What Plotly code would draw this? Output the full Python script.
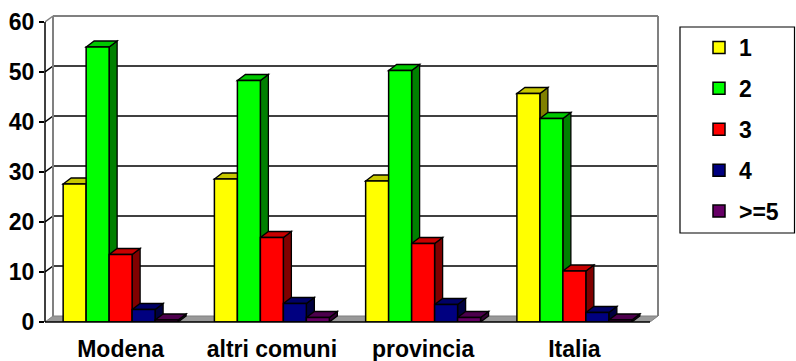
import plotly.graph_objects as go

# Share of families by number of members, per area
categories = ["Modena", "altri comuni", "provincia", "Italia"]
series_names = ["1", "2", "3", "4", ">=5"]
values_1 = [27.6, 28.6, 28.2, 45.7]
values_2 = [55.0, 48.3, 50.3, 40.7]
values_3 = [13.5, 16.9, 15.7, 10.2]
values_4 = [2.5, 3.7, 3.5, 1.9]
values_5 = [0.4, 0.9, 0.9, 0.4]
y_ticks = [0, 10, 20, 30, 40, 50, 60]

series_values = [values_1, values_2, values_3, values_4, values_5]
front_colors = ["#FFFF00", "#00FF00", "#FF0000", "#000080", "#660066"]
top_colors = ["#C8C800", "#00C800", "#C80000", "#000066", "#4D004D"]
side_colors = ["#808000", "#008000", "#800000", "#000040", "#330033"]

# plot geometry (pixels)
W, H = 796, 361
left_px, right_px = 45, 660
top_px, bottom_px = 10, 322
unit_px = 151.25                      # one category slot
y_scale = 5.0                         # pixels per percentage point
x_min = -0.5
x_max = x_min + (right_px - left_px) / unit_px
y_max = (bottom_px - top_px) / y_scale

# perspective offset of the depth axis, in data units
DX = 8 / unit_px
DY = 1.2

bargap = 0.24
n_series = len(series_names)
bar_w = (1 - bargap) / n_series

FONT = dict(family="Liberation Sans, Arial, sans-serif", size=23, color="black", weight="bold")


def px_to_paper_x(px):
    return (px - left_px) / (right_px - left_px)


def px_to_paper_y(py):
    return (bottom_px - py) / (bottom_px - top_px)


fig = go.Figure()

for i, (name, vals) in enumerate(zip(series_names, series_values)):
    fig.add_trace(go.Bar(
        x=list(range(len(categories))), y=vals, name=name,
        marker=dict(color=front_colors[i], line=dict(color="black", width=1.5)),
        legendgroup=name, hoverinfo="skip",
    ))

shapes = []


def poly(pts, fill, line_color="black", width=1.3, layer="between", xref="x", yref="y"):
    d = "M " + " L ".join(f"{x:.5f},{y:.5f}" for x, y in pts) + " Z"
    return dict(type="path", path=d, xref=xref, yref=yref, fillcolor=fill,
                line=dict(color=line_color, width=width), layer=layer)


def seg(x0, y0, x1, y1, color, width, layer="between", xref="x", yref="y"):
    return dict(type="line", x0=x0, y0=y0, x1=x1, y1=y1, xref=xref, yref=yref,
                line=dict(color=color, width=width), layer=layer)


x_end = x_min + len(categories)

# floor
shapes.append(poly([(x_min, 0), (x_end, 0), (x_end + DX, DY), (x_min + DX, DY)],
                   "#999999", line_color="#808080", width=1))

# gridlines on back wall and their return on the left wall
for v in y_ticks[1:-1]:
    shapes.append(seg(x_min + DX, v + DY, x_end + DX, v + DY, "black", 1.5))
    shapes.append(seg(x_min, v, x_min + DX, v + DY, "black", 1.5))

# back wall edges
wall_top = y_ticks[-1] + DY
shapes.append(seg(x_min + DX, DY, x_min + DX, wall_top, "#808080", 2))
shapes.append(seg(x_min + DX, wall_top, x_end + DX, wall_top, "#808080", 2))
shapes.append(seg(x_end + DX, wall_top, x_end + DX, DY, "#808080", 2))
shapes.append(seg(x_min, y_ticks[-1], x_min + DX, wall_top, "#808080", 1.5))

# top and side faces of each bar
for c in range(len(categories)):
    for i in range(n_series):
        v = series_values[i][c]
        x0 = c - (1 - bargap) / 2 + i * bar_w
        x1 = x0 + bar_w
        shapes.append(poly([(x1, 0), (x1 + DX, DY), (x1 + DX, v + DY), (x1, v)], side_colors[i]))
        shapes.append(poly([(x0, v), (x0 + DX, v + DY), (x1 + DX, v + DY), (x1, v)], top_colors[i]))

# front axis lines
shapes.append(seg(0, 0, 0, y_ticks[-1], "black", 1.5, layer="above", xref="paper"))
shapes.append(seg(x_min, 0, x_end, 0, "black", 1.5, layer="above", yref="paper"))

# legend frame
shapes.append(dict(type="rect", xref="paper", yref="paper",
                   x0=px_to_paper_x(680), x1=px_to_paper_x(794.5),
                   y0=px_to_paper_y(233), y1=px_to_paper_y(27),
                   line=dict(color="black", width=1.2), fillcolor="rgba(0,0,0,0)",
                   layer="above"))

fig.update_layout(
    width=W, height=H,
    margin=dict(l=left_px, r=W - right_px, t=top_px, b=H - bottom_px, pad=0, autoexpand=False),
    paper_bgcolor="white", plot_bgcolor="white",
    barmode="group", bargap=bargap, bargroupgap=0,
    font=FONT,
    shapes=shapes,
    showlegend=True,
    legend=dict(
        x=px_to_paper_x(699), y=px_to_paper_y(26),
        xanchor="left", yanchor="top",
        bgcolor="rgba(0,0,0,0)", borderwidth=0,
        font=FONT, tracegroupgap=8, itemwidth=30,
    ),
    xaxis=dict(
        range=[x_min, x_max], tickvals=list(range(len(categories))), ticktext=categories,
        ticks="", showgrid=False, zeroline=False, showline=False, automargin=False,
        tickfont=FONT, ticklabelstandoff=11,
    ),
    xaxis2=dict(
        overlaying="x", anchor="y", side="bottom", range=[x_min, x_max],
        tickvals=[x_min + k for k in range(len(categories) + 1)], ticks="outside",
        ticklen=6, tickwidth=1.5, tickcolor="black", showticklabels=False,
        showgrid=False, zeroline=False, showline=False, automargin=False,
    ),
    yaxis=dict(
        range=[0, y_max], tickvals=y_ticks, ticks="outside", ticklen=5,
        tickwidth=1.5, tickcolor="black", showgrid=False, zeroline=False,
        showline=False, tickfont=FONT, automargin=False,
    ),
)

fig.write_html("out.html")
